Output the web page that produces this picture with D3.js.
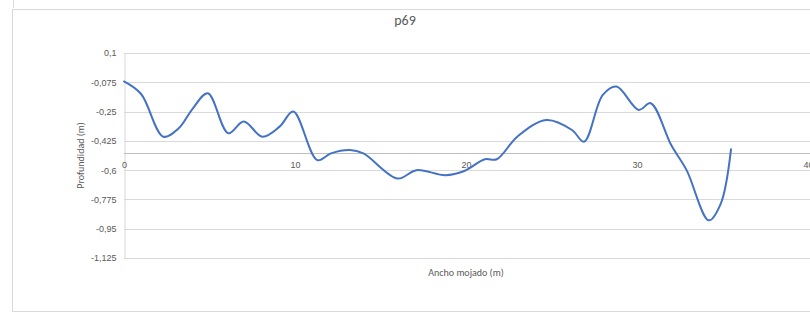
<!DOCTYPE html>
<html>
<head>
<meta charset="utf-8">
<script src="https://cdn.jsdelivr.net/npm/d3@7"></script>
<style>
  html, body { margin: 0; padding: 0; background: #fff; }
  svg { display: block; font-family: Calibri, Carlito, "Liberation Sans", sans-serif; }
</style>
</head>
<body>
<div id="chart"></div>
<script>
// profile p69: width (m) vs depth (m)
const anchoMojado = [0, 1, 2.3, 3.2, 4.0, 4.9, 6.1, 7.0, 8.1, 9.1, 9.9, 11.3, 12.1, 13.2, 14.0, 16.0, 17.1, 18.8, 19.9, 21.1, 21.8, 23.0, 24.7, 26.2, 26.9, 28.0, 28.8, 30.1, 30.8, 32.0, 32.9, 34.2, 34.9, 35.5];
const profundidad = [-0.07, -0.145, -0.40, -0.35, -0.235, -0.14, -0.38, -0.31, -0.40, -0.34, -0.25, -0.54, -0.50, -0.48, -0.50, -0.65, -0.60, -0.63, -0.605, -0.535, -0.535, -0.40, -0.30, -0.36, -0.43, -0.15, -0.10, -0.24, -0.20, -0.45, -0.60, -0.90, -0.80, -0.475];
const yTicks = [0.1, -0.075, -0.25, -0.425, -0.6, -0.775, -0.95, -1.125];
const yTickLabels = ["0,1", "-0,075", "-0,25", "-0,425", "-0,6", "-0,775", "-0,95", "-1,125"];
const xTicks = [0, 10, 20, 30, 40];
const xCross = -0.5;

const W = 810, H = 320;
const plot = { left: 124, right: 808, top: 53, bottom: 258 };
const textColor = '#595959';

const svg = d3.select('#chart').append('svg').attr('width', W).attr('height', H);

// chart frame (and edge of the one above)
svg.append('line').attr('x1', 13.5).attr('x2', 13.5).attr('y1', 0).attr('y2', 8).attr('stroke', '#d9d9d9');
svg.append('rect').attr('x', 12.5).attr('y', 9.5).attr('width', 820).attr('height', 302)
  .attr('fill', 'none').attr('stroke', '#d9d9d9');

const x = d3.scaleLinear().domain([0, 40]).range([plot.left, plot.right]);
const y = d3.scaleLinear().domain([0.1, -1.125]).range([plot.top, plot.bottom]);

// gridlines
svg.append('g').selectAll('line').data(yTicks).join('line')
  .attr('x1', plot.left).attr('x2', plot.right + 10)
  .attr('y1', d => Math.round(y(d)) + 0.5).attr('y2', d => Math.round(y(d)) + 0.5)
  .attr('stroke', '#d9d9d9').attr('stroke-width', 1);

// y axis
const yAxis = d3.axisLeft(y).tickValues(yTicks).tickSize(0).tickPadding(8)
  .tickFormat((d, i) => yTickLabels[i]);
const yAxisG = svg.append('g').attr('transform', `translate(${plot.left + 0.5},0)`).call(yAxis);
yAxisG.select('.domain').attr('stroke', '#d9d9d9');
yAxisG.selectAll('.tick text').attr('fill', textColor).attr('font-size', 9);

// x axis crossing at -0.5
const xAxis = d3.axisBottom(x).tickValues(xTicks).tickSize(0).tickPadding(8).tickFormat(d3.format('d'));
const xAxisG = svg.append('g').attr('transform', `translate(0,${Math.round(y(xCross)) + 0.5})`).call(xAxis);
xAxisG.select('.domain').attr('stroke', '#bfbfbf').attr('d', `M${plot.left},0H${plot.right + 10}`);
xAxisG.selectAll('.tick text').attr('fill', textColor).attr('font-size', 9);

// profile line
const line = d3.line()
  .x((d, i) => x(anchoMojado[i]))
  .y(d => y(d))
  .curve(d3.curveCatmullRom.alpha(0.5));
svg.append('path').datum(profundidad)
  .attr('d', line)
  .attr('fill', 'none')
  .attr('stroke', '#4472c4')
  .attr('stroke-width', 2)
  .attr('stroke-linejoin', 'round')
  .attr('stroke-linecap', 'round');

// titles
svg.append('text').attr('x', 405).attr('y', 25).attr('text-anchor', 'middle')
  .attr('font-size', 14).attr('fill', textColor).text('p69');
svg.append('text').attr('x', (plot.left + plot.right) / 2).attr('y', 276).attr('text-anchor', 'middle')
  .attr('font-size', 10).attr('fill', textColor).text('Ancho mojado (m)');
svg.append('text')
  .attr('transform', `translate(84,${(plot.top + plot.bottom) / 2}) rotate(-90)`)
  .attr('text-anchor', 'middle').attr('font-size', 10).attr('fill', textColor)
  .text('Profundidad (m)');
</script>
</body>
</html>
